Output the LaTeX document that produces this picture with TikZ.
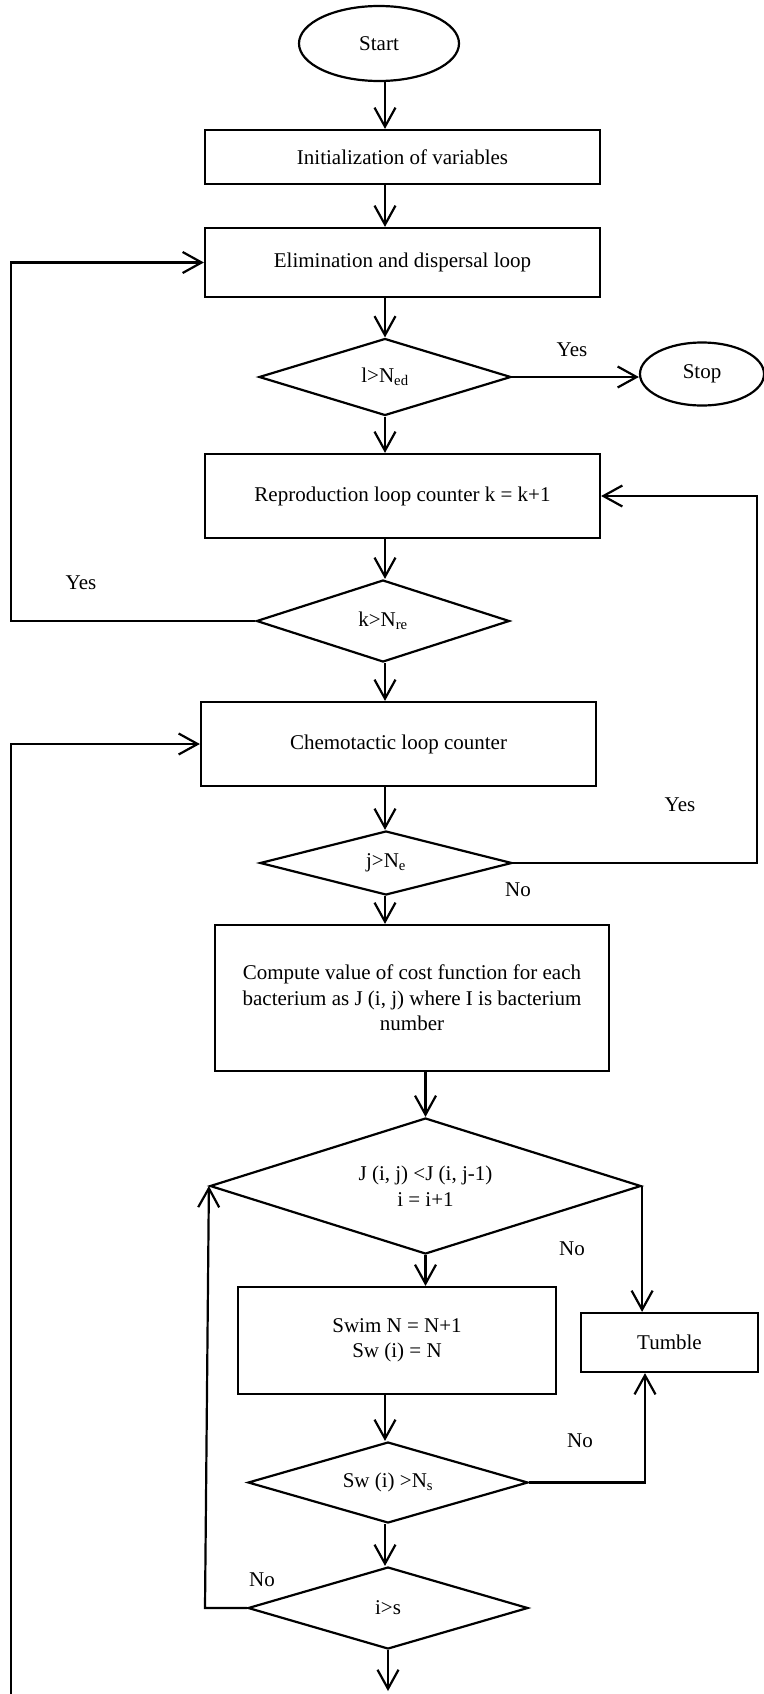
\documentclass[tikz,border=0pt]{standalone}
\usepackage{fontspec}
\setmainfont{Liberation Serif}
\usetikzlibrary{shapes.geometric,arrows.meta}
\begin{document}
\begin{tikzpicture}[x=1pt,y=-1pt,
  every node/.style={font=\fontsize{21}{25.5}\selectfont, inner sep=0pt},
  box/.style={draw, rectangle, line width=2.2pt, align=center},
  dec/.style={draw, diamond, shape aspect=3.2, line width=2.2pt, align=center},
  term/.style={draw, ellipse, line width=2.2pt},
  arr/.style={line width=2.2pt, -{Straight Barb[length=19pt,width=21pt,line width=2.2pt]}},
  lbl/.style={anchor=center}]
\useasboundingbox (0,0) rectangle (763,1694);
\fill[white] (0,0) rectangle (763,1694);
% column helpers
\coordinate (C) at (385,0);
\coordinate (L1) at (11,0);
\coordinate (R1) at (757,0);
\coordinate (T) at (645,0);
\coordinate (LB) at (205,0);
% nodes
\node[term, minimum width=160pt, minimum height=75pt] (start) at (379,43.5) {Start};
\node[box, minimum width=395pt, minimum height=54pt] (init) at (402.5,157) {Initialization of variables};
\node[box, minimum width=395pt, minimum height=69pt] (elim) at (402.5,262.5) {Elimination and dispersal loop};
\node[dec, minimum width=252pt, minimum height=77pt] (d1) at (385,377) {l>N\textsubscript{ed}};
\node[term, minimum width=124pt, minimum height=63pt] (stop) at (702,374) {Stop};
\node[box, minimum width=395pt, minimum height=84pt] (rep) at (402.5,496) {Reproduction loop counter k = k+1};
\node[dec, minimum width=253pt, minimum height=82pt] (d2) at (383,621) {k>N\textsubscript{re}};
\node[box, minimum width=395pt, minimum height=84pt] (chemo) at (398.5,744) {Chemotactic loop counter};
\node[dec, minimum width=252pt, minimum height=64pt] (d3) at (386,863) {j>N\textsubscript{e}};
\node[box, minimum width=394pt, minimum height=146pt] (comp) at (412,998) {Compute value of cost function for each\\bacterium as J (i, j) where I is bacterium\\number};
\node[dec, minimum width=431pt, minimum height=136pt] (d4) at (425.5,1186) {J (i, j) <J (i, j-1)\\i = i+1};
\node[box, minimum width=318pt, minimum height=107pt] (swim) at (397,1340.5) {Swim N = N+1\\Sw (i) = N};
\node[box, minimum width=177pt, minimum height=59pt] (tumble) at (669.5,1342.5) {Tumble};
\node[dec, minimum width=280pt, minimum height=81pt] (d5) at (388,1482.5) {Sw (i) >N\textsubscript{s}};
\node[dec, minimum width=280pt, minimum height=82pt] (d6) at (388,1608) {i>s};
\coordinate (bot) at (388,1691);
\coordinate (bl) at (11,1694);
% main flow
\draw[arr] (start.south -| C) -- (init.north -| C);
\draw[arr] (init.south -| C) -- (elim.north -| C);
\draw[arr] (elim.south -| C) -- (d1.north);
\draw[arr] (d1.east) -- (d1.east -| stop.west);
\draw[arr] (d1.south) -- (rep.north -| d1.south);
\draw[arr] (rep.south -| C) -- (d2.north -| C);
\draw[arr] (d2.south -| C) -- (chemo.north -| C);
\draw[arr] (chemo.south -| C) -- (d3.north -| C);
\draw[arr] (d3.south -| C) -- (comp.north -| C);
\draw[arr] (comp.south -| d4.north) -- (d4.north);
\draw[arr] (d4.south) -- (d4.south |- swim.north);
\draw[arr] (swim.south -| C) -- (d5.north -| C);
\draw[arr] (d5.south -| C) -- (d6.north -| C);
\draw[arr] (d6.south) -- (bot);
% loops
\draw[arr] (d2.west) -- (d2.west -| L1) -- (elim.west -| L1) -- (elim.west);
\draw[arr] (d3.east) -- (d3.east -| R1) -- (rep.east -| R1) -- (rep.east);
\draw[arr] (bl) -- (chemo.west -| L1) -- (chemo.west);
\draw[arr] (d4.east) -- (d4.east |- tumble.north);
\draw[arr] (d5.east) -- (d5.east -| T) -- (T |- tumble.south);
\draw[arr] (d6.west) -- (d6.west -| LB) -- (d4.west);
% labels
\node[lbl] (y1) at (572,350) {Yes};
\node[lbl] (y2) at (81,583) {Yes};
\node[lbl] (y3) at (680,805) {Yes};
\node[lbl] (n1) at (518,890) {No};
\node[lbl] (n2) at (572,1249) {No};
\node[lbl] (n3) at (580,1441) {No};
\node[lbl] (n4) at (262,1580) {No};
\end{tikzpicture}
\end{document}
